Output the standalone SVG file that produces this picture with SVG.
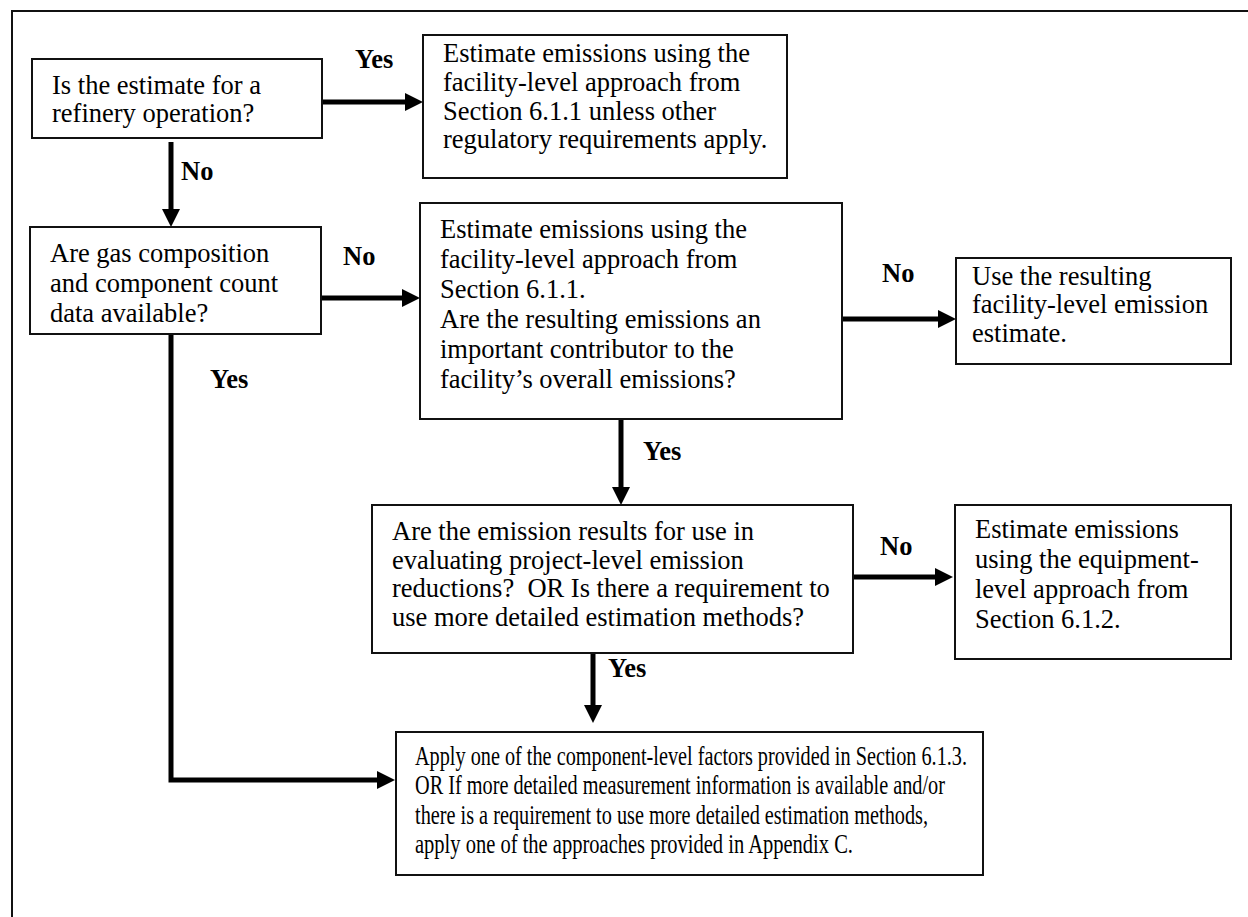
<svg xmlns="http://www.w3.org/2000/svg" width="1248" height="917" viewBox="0 0 1248 917">
<defs>
<marker id="ah" markerUnits="userSpaceOnUse" markerWidth="18" markerHeight="18" refX="0" refY="9" orient="auto" viewBox="0 0 18 18">
<path d="M0,0 L18,9 L0,18 z" fill="#000"/>
</marker>
</defs>
<style>
.box{fill:#fff;stroke:#111;stroke-width:2}
.t{font-family:"Liberation Serif","Times New Roman",serif;font-size:26.5px;fill:#000;white-space:pre}
.lb{font-family:"Liberation Serif","Times New Roman",serif;font-size:26.5px;font-weight:bold;fill:#000}
.c{fill:none;stroke:#000;stroke-width:5;marker-end:url(#ah)}
.frame{fill:none;stroke:#111;stroke-width:2}
</style>
<rect width="1248" height="917" fill="#fff"/>
<path class="frame" d="M12,917 L12,11 L1248,11"/>

<g id="connectors">
<path class="c" d="M322,102 L405,102"/>
<path class="c" d="M171,142 L171,209"/>
<path class="c" d="M321,298 L402,298"/>
<path class="c" d="M171,334 L171,780 L377,780" stroke-linejoin="miter"/>
<path class="c" d="M842,319 L938,319"/>
<path class="c" d="M621,419 L621,487"/>
<path class="c" d="M853,577 L935,577"/>
<path class="c" d="M593,653 L593,705"/>
<text class="lb" x="355" y="68">Yes</text>
<text class="lb" x="181" y="180">No</text>
<text class="lb" x="343" y="265">No</text>
<text class="lb" x="210" y="388">Yes</text>
<text class="lb" x="882" y="282">No</text>
<text class="lb" x="643" y="460">Yes</text>
<text class="lb" x="880" y="555">No</text>
<text class="lb" x="608" y="677">Yes</text>
</g>

<g id="n1">
<rect class="box" x="32" y="59" width="290" height="79"/>
<text class="t" x="52" y="94">Is the estimate for a</text>
<text class="t" x="52" y="122">refinery operation?</text>
</g>

<g id="n2">
<rect class="box" x="423" y="35" width="364" height="143"/>
<text class="t" x="443" y="62">Estimate emissions using the</text>
<text class="t" x="443" y="91">facility-level approach from</text>
<text class="t" x="443" y="120">Section 6.1.1 unless other</text>
<text class="t" x="443" y="148">regulatory requirements apply.</text>
</g>

<g id="n3">
<rect class="box" x="30" y="227" width="291" height="107"/>
<text class="t" x="50" y="262">Are gas composition</text>
<text class="t" x="50" y="292">and component count</text>
<text class="t" x="50" y="322">data available?</text>
</g>

<g id="n4">
<rect class="box" x="420" y="203" width="422" height="216"/>
<text class="t" x="440" y="238">Estimate emissions using the</text>
<text class="t" x="440" y="268">facility-level approach from</text>
<text class="t" x="440" y="298">Section 6.1.1.</text>
<text class="t" x="440" y="328">Are the resulting emissions an</text>
<text class="t" x="440" y="358">important contributor to the</text>
<text class="t" x="440" y="388">facility’s overall emissions?</text>
</g>

<g id="n5">
<rect class="box" x="956" y="258" width="275" height="106"/>
<text class="t" x="972" y="285">Use the resulting</text>
<text class="t" x="972" y="313">facility-level emission</text>
<text class="t" x="972" y="342">estimate.</text>
</g>

<g id="n6">
<rect class="box" x="372" y="505" width="481" height="148"/>
<text class="t" x="392" y="540">Are the emission results for use in</text>
<text class="t" x="392" y="569">evaluating project-level emission</text>
<text class="t" x="392" y="597">reductions?  OR Is there a requirement to</text>
<text class="t" x="392" y="626">use more detailed estimation methods?</text>
</g>

<g id="n7">
<rect class="box" x="955" y="505" width="276" height="154"/>
<text class="t" x="975" y="538">Estimate emissions</text>
<text class="t" x="975" y="568">using the equipment-</text>
<text class="t" x="975" y="598">level approach from</text>
<text class="t" x="975" y="628">Section 6.1.2.</text>
</g>

<g id="n8">
<rect class="box" x="396" y="732" width="587" height="143"/>
<text class="t" x="415" y="765" textLength="552" lengthAdjust="spacingAndGlyphs">Apply one of the component-level factors provided in Section 6.1.3.</text>
<text class="t" x="415" y="794" textLength="530" lengthAdjust="spacingAndGlyphs">OR If more detailed measurement information is available and/or</text>
<text class="t" x="415" y="824" textLength="513" lengthAdjust="spacingAndGlyphs">there is a requirement to use more detailed estimation methods,</text>
<text class="t" x="415" y="853" textLength="438" lengthAdjust="spacingAndGlyphs">apply one of the approaches provided in Appendix C.</text>
</g>
</svg>
